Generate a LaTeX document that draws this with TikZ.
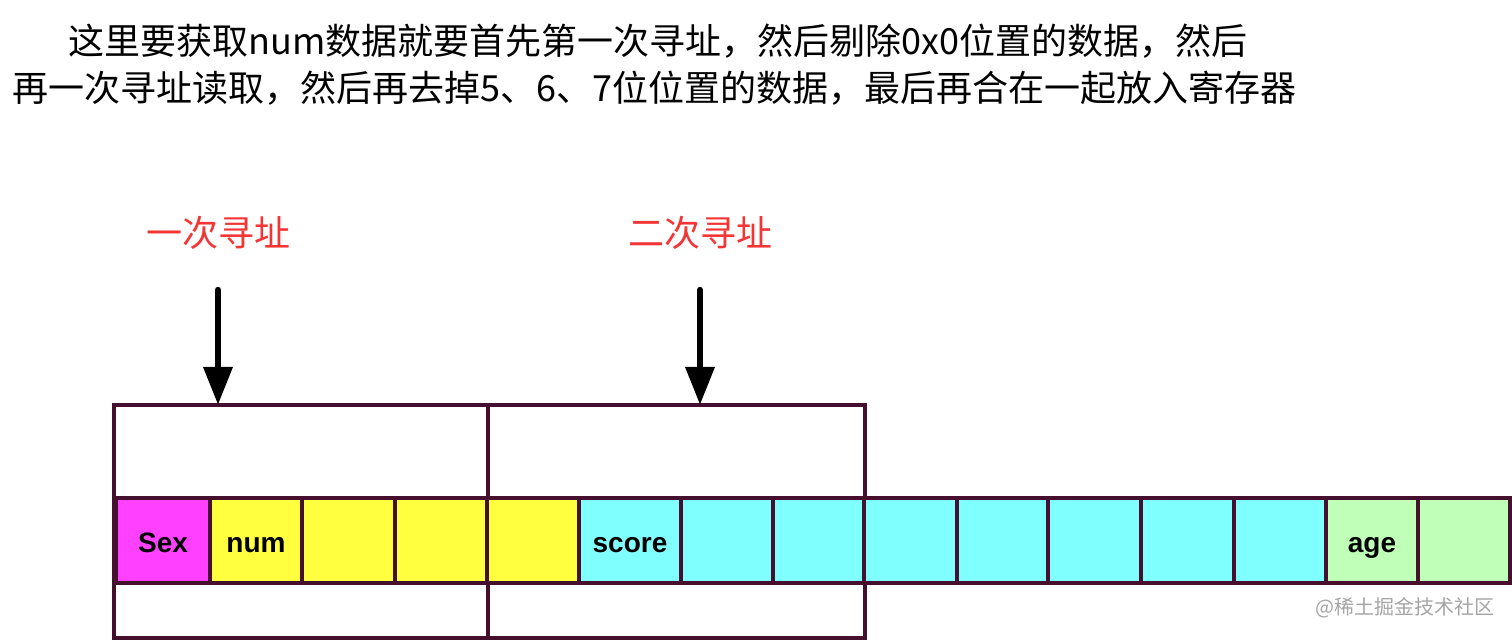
\documentclass[tikz,border=0pt]{standalone}
\usepackage{fontspec}
\setmainfont{Noto Sans CJK SC}
\newfontfamily\latb{Liberation Sans}
\usetikzlibrary{arrows.meta}
\definecolor{frame}{RGB}{68,16,46}
\definecolor{lblred}{RGB}{245,52,52}
\definecolor{cmag}{RGB}{255,64,255}
\definecolor{cyel}{RGB}{255,255,64}
\definecolor{ccyan}{RGB}{128,255,255}
\definecolor{cgreen}{RGB}{192,255,184}
\definecolor{wm}{RGB}{165,165,165}
\tikzset{
  cell/.style={draw=frame, line width=2pt, minimum height=42.5pt, inner sep=0pt, outer sep=0pt,
    text height=12.5pt, text depth=0pt,
    font=\latb\bfseries\fontsize{14}{16}\selectfont},
  bigbox/.style={draw=frame, line width=2pt, inner sep=0pt, outer sep=0pt, minimum height=116.5pt},
  lbl/.style={text=lblred, font=\fontsize{18}{20}\selectfont, inner sep=0pt},
  toptext/.style={anchor=west, inner sep=0pt, font=\fontsize{18}{20}\selectfont},
  arr/.style={line width=3.2pt, line cap=round, -{Triangle[width=14pt,length=19pt]}}
}
\begin{document}
\begin{tikzpicture}[x=0.5pt,y=-0.5pt]
\useasboundingbox (0,0) rectangle (1512,640);
% top text
\node[toptext] (t1) at (68,41) {这里要获取num数据就要首先第一次寻址，然后剔除0x0位置的数据，然后};
\node[toptext] (t2) at (12,88) {再一次寻址读取，然后再去掉5、6、7位位置的数据，最后再合在一起放入寄存器};
% big boxes
\node[bigbox, minimum width=187pt] (b1) at (301,521.5) {};
\node[bigbox, minimum width=188.5pt] (b2) at (676.5,521.5) {};
% cells
\node[cell, fill=cmag,   minimum width=47pt]   (c1)  at (163,540.5) {Sex};
\node[cell, fill=cyel,   minimum width=46pt]   (c2)  at (256,540.5) {num};
\node[cell, fill=cyel,   minimum width=46.5pt] (c3)  at (348.5,540.5) {};
\node[cell, fill=cyel,   minimum width=46pt]   (c4)  at (441,540.5) {};
\node[cell, fill=cyel,   minimum width=46pt]   (c5)  at (533,540.5) {};
\node[cell, fill=ccyan,  minimum width=51pt]   (c6)  at (630,540.5) {score};
\node[cell, fill=ccyan,  minimum width=46pt]   (c7)  at (727,540.5) {};
\node[cell, fill=ccyan,  minimum width=45.5pt] (c8)  at (818.5,540.5) {};
\node[cell, fill=ccyan,  minimum width=46.5pt] (c9)  at (910.5,540.5) {};
\node[cell, fill=ccyan,  minimum width=45.5pt] (c10) at (1002.5,540.5) {};
\node[cell, fill=ccyan,  minimum width=46.5pt] (c11) at (1094.5,540.5) {};
\node[cell, fill=ccyan,  minimum width=46.5pt] (c12) at (1187.5,540.5) {};
\node[cell, fill=ccyan,  minimum width=46pt]   (c13) at (1280,540.5) {};
\node[cell, fill=cgreen, minimum width=46pt]   (c14) at (1372,540.5) {age};
\node[cell, fill=cgreen, minimum width=46pt]   (c15) at (1464,540.5) {};
% labels and arrows
\node[lbl] (l1) at (218,233) {一次寻址};
\node[lbl] (l2) at (700,233) {二次寻址};
\coordinate (p1) at (218,290);
\coordinate (p2) at (700,290);
\draw[arr] (p1) -- (p1 |- b1.north);
\draw[arr] (p2) -- (p2 |- b2.north);
% watermark
\node[anchor=east, text=wm, inner sep=0pt, font=\fontsize{10}{12}\selectfont] (wmk) at (1495,608) {@稀土掘金技术社区};
\end{tikzpicture}
\end{document}
